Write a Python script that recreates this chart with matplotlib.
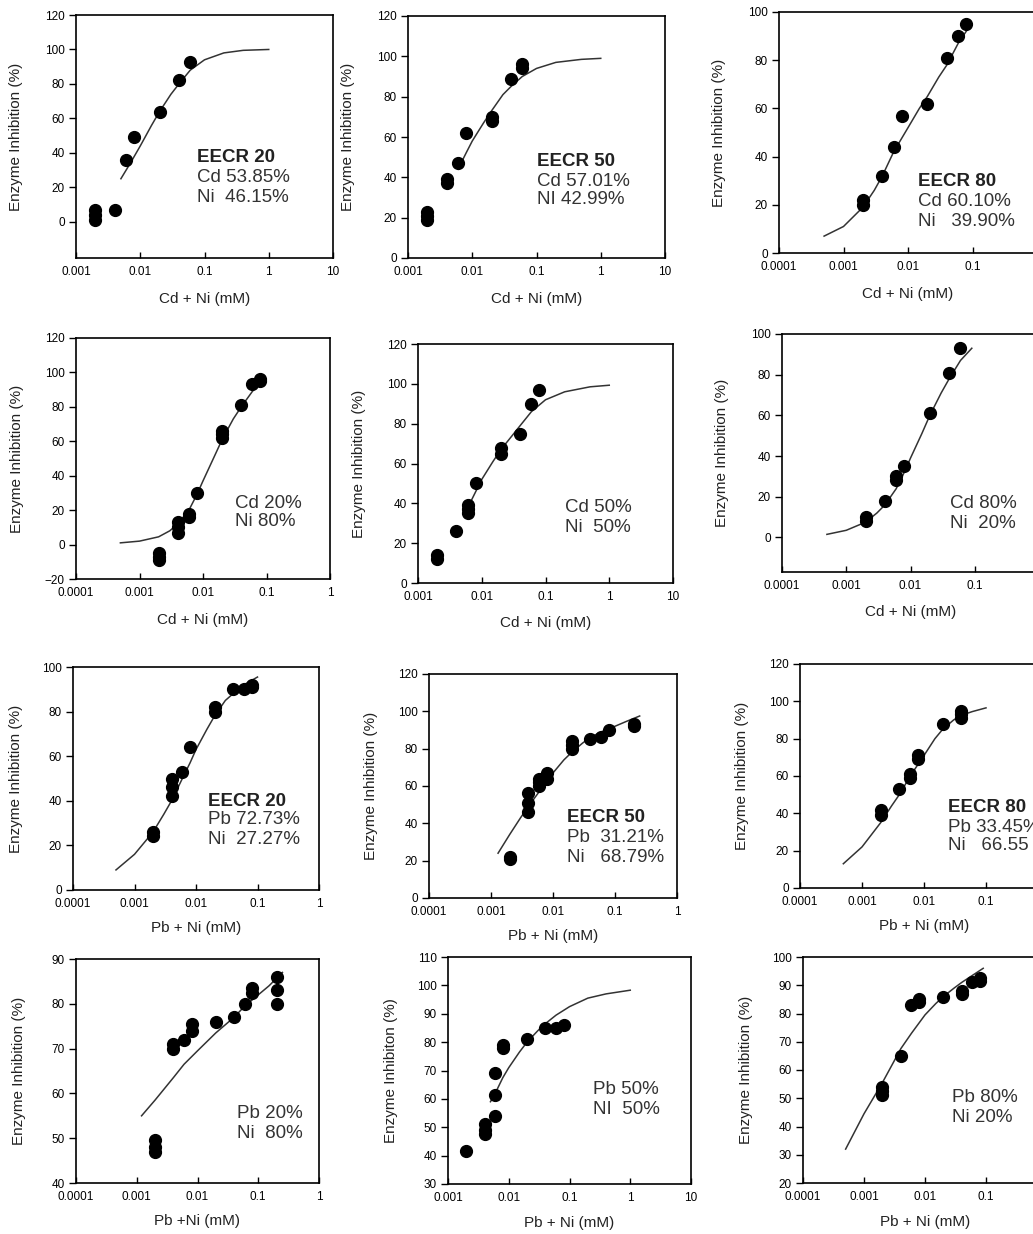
import matplotlib.pyplot as plt
import numpy as np

plt.rcParams["font.family"] = ["Liberation Sans", "DejaVu Sans"]

W, H = 1033, 1234

# ---- values ----
# row 1: Cd + Ni, equi-effective mixtures
p1_x = [0.002, 0.002, 0.002, 0.004, 0.006, 0.008, 0.02, 0.04, 0.06]
p1_y = [1, 4, 7, 7, 36, 49, 64, 82, 93]
p1_fit_x = [0.005, 0.007, 0.01, 0.015, 0.02, 0.03, 0.04, 0.06, 0.1, 0.2, 0.4, 1]
p1_fit_y = [25, 34, 44, 56, 64, 74, 80, 88, 94, 98, 99.5, 100]

p2_x = [0.002, 0.002, 0.002, 0.004, 0.004, 0.006, 0.008, 0.02, 0.02, 0.04, 0.06, 0.06]
p2_y = [19, 21, 23, 37, 39, 47, 62, 68, 70, 89, 94, 96]
p2_fit_x = [0.006, 0.008, 0.01, 0.015, 0.02, 0.03, 0.04, 0.06, 0.1, 0.2, 0.5, 1]
p2_fit_y = [44, 52, 58, 67, 73, 81, 85, 90, 94, 97, 98.5, 99]

p3_x = [0.002, 0.002, 0.004, 0.006, 0.008, 0.02, 0.04, 0.06, 0.08]
p3_y = [20, 22, 32, 44, 57, 62, 81, 90, 95]
p3_fit_x = [0.0005, 0.001, 0.002, 0.003, 0.004, 0.006, 0.01, 0.015, 0.02, 0.03, 0.04, 0.06, 0.08]
p3_fit_y = [7, 11, 19, 26, 32, 42, 52, 60, 65, 73, 78, 87, 92]

# row 2: Cd + Ni, fixed ratios
p4_x = [0.002, 0.002, 0.002, 0.004, 0.004, 0.004, 0.006, 0.006, 0.008,
        0.02, 0.02, 0.02, 0.04, 0.06, 0.08, 0.08]
p4_y = [-9, -7, -5, 7, 10, 13, 16, 18, 30, 62, 64, 66, 81, 93, 95, 96]
p4_fit_x = [0.0005, 0.001, 0.002, 0.003, 0.004, 0.006, 0.008, 0.01, 0.015, 0.02,
            0.03, 0.04, 0.06, 0.08]
p4_fit_y = [1, 2, 4.5, 8, 12, 20, 29, 37, 51, 61, 73, 80, 89, 94]

p5_x = [0.002, 0.002, 0.004, 0.006, 0.006, 0.006, 0.008, 0.02, 0.02, 0.04, 0.06, 0.08]
p5_y = [12, 14, 26, 35, 37, 39, 50, 65, 68, 75, 90, 97]
p5_fit_x = [0.007, 0.01, 0.015, 0.02, 0.03, 0.04, 0.06, 0.1, 0.2, 0.5, 1]
p5_fit_y = [42, 52, 61, 67, 74, 79, 86, 92, 96, 98.5, 99.3]

p6_x = [0.002, 0.002, 0.004, 0.006, 0.006, 0.008, 0.02, 0.04, 0.06]
p6_y = [8, 10, 18, 28, 30, 35, 61, 81, 93]
p6_fit_x = [0.0005, 0.001, 0.002, 0.003, 0.004, 0.006, 0.008, 0.01, 0.015, 0.02,
            0.03, 0.04, 0.06, 0.09]
p6_fit_y = [1.5, 3.5, 7.5, 12, 16, 24, 32, 39, 51, 60, 71, 78, 87, 93]

# row 3: Pb + Ni, equi-effective mixtures
p7_x = [0.002, 0.002, 0.004, 0.004, 0.004, 0.006, 0.008, 0.02, 0.02, 0.04,
        0.06, 0.08, 0.08]
p7_y = [24, 26, 42, 46, 50, 53, 64, 80, 82, 90, 90, 91, 92]
p7_fit_x = [0.0005, 0.001, 0.002, 0.003, 0.004, 0.006, 0.008, 0.01, 0.015, 0.02,
            0.03, 0.04, 0.06, 0.1]
p7_fit_y = [9, 16, 26, 34, 40, 50, 57, 63, 72, 78, 85, 88, 92, 95.5]

p8_x = [0.002, 0.002, 0.004, 0.004, 0.004, 0.006, 0.006, 0.006, 0.008, 0.008,
        0.02, 0.02, 0.02, 0.04, 0.06, 0.08, 0.2, 0.2]
p8_y = [21, 22, 46, 51, 56, 60, 62, 64, 64, 67, 80, 82, 84, 85, 86, 90, 92, 93]
p8_fit_x = [0.0013, 0.002, 0.003, 0.004, 0.006, 0.01, 0.015, 0.02, 0.03, 0.04,
            0.06, 0.1, 0.15, 0.25]
p8_fit_y = [24, 34, 43, 49, 57, 67, 74, 78, 83, 86, 89, 92, 94.5, 97.5]

p9_x = [0.002, 0.002, 0.004, 0.006, 0.006, 0.008, 0.008, 0.02, 0.04, 0.04, 0.04]
p9_y = [39, 42, 53, 59, 61, 69, 71, 88, 91, 93, 95]
p9_fit_x = [0.0005, 0.001, 0.002, 0.003, 0.004, 0.006, 0.01, 0.015, 0.02, 0.03,
            0.04, 0.06, 0.1]
p9_fit_y = [13, 22, 35, 44, 50, 60, 71, 80, 85, 90, 92.5, 94.5, 96.5]

# row 4: Pb + Ni, fixed ratios
p10_x = [0.002, 0.002, 0.002, 0.004, 0.004, 0.006, 0.008, 0.008, 0.02, 0.04,
         0.06, 0.08, 0.08, 0.2, 0.2, 0.2]
p10_y = [47, 48, 49.5, 70, 71, 72, 74, 75.5, 76, 77, 80, 82.5, 83.5, 80, 83, 86]
p10_fit_x = [0.0012, 0.002, 0.004, 0.006, 0.01, 0.02, 0.04, 0.06, 0.1, 0.15, 0.25]
p10_fit_y = [55, 58.5, 63.5, 66.5, 69.5, 73.5, 77, 79.5, 82, 84, 87]

p11_x = [0.002, 0.004, 0.004, 0.004, 0.006, 0.006, 0.006, 0.008, 0.008, 0.02,
         0.04, 0.06, 0.08]
p11_y = [41.5, 47.5, 49, 51, 54, 61.5, 69, 78, 79, 81, 85, 85, 86]
p11_fit_x = [0.005, 0.006, 0.008, 0.01, 0.015, 0.02, 0.03, 0.04, 0.06, 0.1, 0.2, 0.4, 1]
p11_fit_y = [59, 62, 67.5, 71, 76.5, 80, 84, 86.5, 89.5, 92.5, 95.5, 97, 98.3]

p12_x = [0.002, 0.002, 0.002, 0.004, 0.006, 0.008, 0.008, 0.02, 0.04, 0.04,
         0.06, 0.08, 0.08]
p12_y = [51, 52.5, 54, 65, 83, 84, 85, 86, 87, 88, 91, 91.5, 92.5]
p12_fit_x = [0.0005, 0.001, 0.002, 0.003, 0.004, 0.006, 0.01, 0.015, 0.02, 0.03,
             0.04, 0.06, 0.09]
p12_fit_y = [32, 44.5, 55.5, 62.5, 67.5, 73, 79.5, 83.5, 86, 89, 91, 93.5, 96]

# panel labels
p1_text = ["EECR 20", "Cd 53.85%", "Ni  46.15%"]
p2_text = ["EECR 50", "Cd 57.01%", "NI 42.99%"]
p3_text = ["EECR 80", "Cd 60.10%", "Ni   39.90%"]
p4_text = ["Cd 20%", "Ni 80%"]
p5_text = ["Cd 50%", "Ni  50%"]
p6_text = ["Cd 80%", "Ni  20%"]
p7_text = ["EECR 20", "Pb 72.73%", "Ni  27.27%"]
p8_text = ["EECR 50", "Pb  31.21%", "Ni   68.79%"]
p9_text = ["EECR 80", "Pb 33.45%", "Ni   66.55"]
p10_text = ["Pb 20%", "Ni  80%"]
p11_text = ["Pb 50%", "NI  50%"]
p12_text = ["Pb 80%", "Ni 20%"]

ylab = "Enzyme Inhibition (%)"
cd_lab = "Cd + Ni (mM)"
pb_lab = "Pb + Ni (mM)"

# (data, fit, texts, xlabel, ylabel, xlim, ylim, yticks, rect px (L,T,R,B), text px (x, [ys]))
panels = [
    (p1_x, p1_y, p1_fit_x, p1_fit_y, p1_text, cd_lab, ylab, (1e-3, 10), (-21, 120),
     range(0, 121, 20), (76, 15, 333, 258), (197, [157, 177, 197])),
    (p2_x, p2_y, p2_fit_x, p2_fit_y, p2_text, cd_lab, ylab, (1e-3, 10), (0, 120),
     range(0, 121, 20), (408, 16, 665, 258), (537, [162, 181, 200])),
    (p3_x, p3_y, p3_fit_x, p3_fit_y, p3_text, cd_lab, ylab, (1e-4, 1), (0, 100),
     range(0, 101, 20), (779, 12, 1037, 253), (918, [182, 202, 221])),
    (p4_x, p4_y, p4_fit_x, p4_fit_y, p4_text, cd_lab, ylab, (1e-4, 1), (-20, 120),
     range(-20, 121, 20), (76, 338, 330, 579), (235, [503, 522])),
    (p5_x, p5_y, p5_fit_x, p5_fit_y, p5_text, cd_lab, ylab, (1e-3, 10), (0, 120),
     range(0, 121, 20), (418, 344, 673, 583), (565, [508, 527])),
    (p6_x, p6_y, p6_fit_x, p6_fit_y, p6_text, cd_lab, ylab, (1e-4, 1), (-17, 100),
     range(0, 101, 20), (782, 334, 1039, 572), (950, [503, 523])),
    (p7_x, p7_y, p7_fit_x, p7_fit_y, p7_text, pb_lab, ylab, (1e-4, 1), (0, 100),
     range(0, 101, 20), (73, 667, 319, 890), (208, [801, 820, 839])),
    (p8_x, p8_y, p8_fit_x, p8_fit_y, p8_text, pb_lab, ylab, (1e-4, 1), (0, 120),
     range(0, 121, 20), (429, 674, 677, 898), (567, [818, 838, 857])),
    (p9_x, p9_y, p9_fit_x, p9_fit_y, p9_text, pb_lab, ylab, (1e-4, 1), (0, 120),
     range(0, 121, 20), (800, 664, 1048, 888), (948, [807, 827, 845])),
    (p10_x, p10_y, p10_fit_x, p10_fit_y, p10_text, "Pb +Ni (mM)", ylab, (1e-4, 1), (40, 90),
     range(40, 91, 10), (76, 959, 319, 1183), (237, [1113, 1133])),
    (p11_x, p11_y, p11_fit_x, p11_fit_y, p11_text, pb_lab, "Enzyme Inhibiton (%)", (1e-3, 10),
     (30, 110), range(30, 111, 10), (448, 957, 691, 1184), (593, [1090, 1110])),
    (p12_x, p12_y, p12_fit_x, p12_fit_y, p12_text, pb_lab, ylab, (1e-4, 1), (20, 100),
     range(20, 101, 10), (803, 957, 1047, 1183), (952, [1098, 1118])),
]

fig = plt.figure(figsize=(W / 100, H / 100), dpi=100)

for (x, y, fx, fy, texts, xl, yl, xlim, ylim, yticks, rect, tpos) in panels:
    L, T, R, B = rect
    ax = fig.add_axes([L / W, 1 - B / H, (R - L) / W, (B - T) / H])
    ax.plot(fx, fy, color="#333333", lw=1.1, zorder=2)
    ax.plot(x, y, "o", color="black", ms=8.5, zorder=3)
    ax.set_xscale("log")
    ax.set_xlim(*xlim)
    ax.set_ylim(*ylim)
    decades = [10.0 ** k for k in range(-4, 2) if xlim[0] <= 10.0 ** k <= xlim[1]]
    # ticks whose label would fall past the right edge of the sheet stay unlabelled
    span = np.log10(xlim[1]) - np.log10(xlim[0])
    labels = []
    for d in decades:
        px = L + (np.log10(d) - np.log10(xlim[0])) / span * (R - L)
        labels.append(f"{d:g}" if px < W - 8 else "")
    ax.set_xticks(decades, labels)
    ax.xaxis.set_minor_locator(plt.NullLocator())
    ax.set_yticks(list(yticks))
    ax.tick_params(axis="x", direction="in", length=4, width=1, pad=6, labelsize=8.5)
    ax.tick_params(axis="y", direction="out", length=5, width=1, pad=3, labelsize=8.5)
    for s in ax.spines.values():
        s.set_linewidth(1.2)
    ax.set_xlabel(xl, fontsize=11, color="#222222")
    ax.set_ylabel(yl, fontsize=11, color="#222222")
    ax.xaxis.set_label_coords(0.5, -0.14)
    ax.yaxis.set_label_coords(-0.205, 0.5)

    tx, tys = tpos
    bold = len(texts) == 3
    for i, (line, ty) in enumerate(zip(texts, tys)):
        fig.text(tx / W, 1 - ty / H, line, fontsize=13.5, va="center", ha="left",
                 color="#222222" if (bold and i == 0) else "#333333",
                 fontweight="bold" if (bold and i == 0) else "normal")

fig.savefig("out.png", dpi=100)
